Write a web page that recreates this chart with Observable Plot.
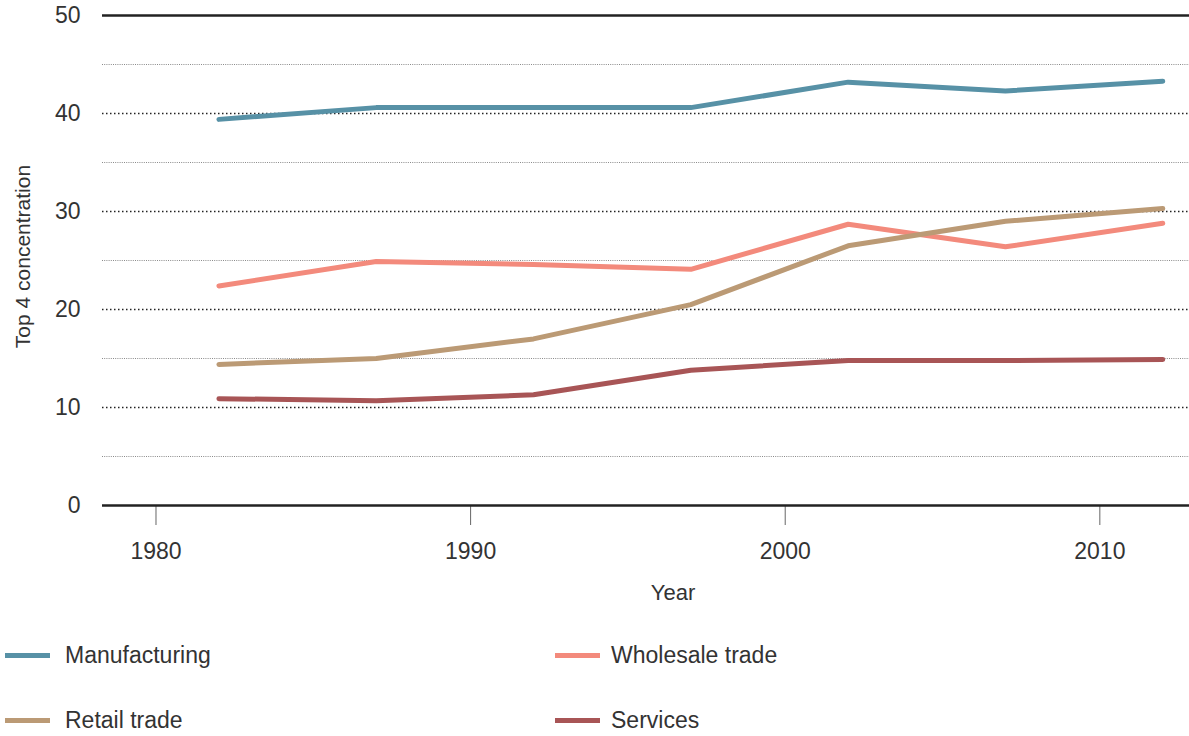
<!DOCTYPE html>
<html>
<head>
<meta charset="utf-8">
<script src="https://cdn.jsdelivr.net/npm/d3@7"></script>
<script src="https://cdn.jsdelivr.net/npm/@observablehq/plot@0.6"></script>
<style>
  html, body { margin: 0; padding: 0; background: #fff; }
  body { width: 1189px; height: 736px; position: relative; overflow: hidden;
         font-family: "Liberation Sans", Arial, sans-serif; color: #333; }
  #chart { position: absolute; left: 0; top: 0; }
  .lg { position: absolute; display: flex; align-items: center; font-size: 23px; color: #333; }
  .lg .sw { width: 45px; height: 5px; }
</style>
</head>
<body>
<div id="chart"></div>
<div id="legend"></div>
<script>
const years = [1982, 1987, 1992, 1997, 2002, 2007, 2012];
const manufacturing = [39.4, 40.6, 40.6, 40.6, 43.2, 42.3, 43.3];
const wholesale = [22.4, 24.9, 24.6, 24.1, 28.7, 26.4, 28.8];
const retail = [14.4, 15.0, 17.0, 20.5, 26.5, 29.0, 30.3];
const services = [10.9, 10.7, 11.3, 13.8, 14.8, 14.8, 14.9];

const seriesNames = ["Manufacturing", "Wholesale trade", "Retail trade", "Services"];
const seriesColors = ["#5791a6", "#f38a7c", "#bb9a75", "#a85556"];
const xTicks = [1980, 1990, 2000, 2010];
const yTicks = [0, 10, 20, 30, 40, 50];
const minorGrid = [5, 15, 25, 35, 45];
const majorGrid = [10, 20, 30, 40];
const boundary = [0, 50];

const seriesValues = [manufacturing, wholesale, retail, services];
const rows = [];
seriesNames.forEach((name, i) => {
  years.forEach((yr, j) => rows.push({series: name, year: yr, value: seriesValues[i][j]}));
});

const chart = Plot.plot({
  width: 1189,
  height: 615,
  marginLeft: 102,
  marginRight: 0,
  marginTop: 15,
  marginBottom: 110,
  x: {domain: [1978.3, 2012.85]},
  y: {domain: [0, 50]},
  color: {domain: seriesNames, range: seriesColors},
  style: {fontFamily: "'Liberation Sans', Arial, sans-serif", fontSize: "22px", color: "#333", background: "#fff"},
  marks: [
    Plot.ruleY(minorGrid, {stroke: "#8a8a8a", strokeDasharray: "1,1.2", strokeWidth: 1}),
    Plot.ruleY(majorGrid, {stroke: "#222", strokeDasharray: "1.5,2.5", strokeWidth: 1.5}),
    Plot.axisY({ticks: yTicks, tickSize: 0, tickPadding: 22, label: null, fill: "#333", fontSize: 23}),
    Plot.axisX({ticks: xTicks, tickSize: 20, tickPadding: 17, label: null, tickFormat: d => String(d), stroke: "#666", fill: "#333", fontSize: 23}),
    Plot.ruleY(boundary, {stroke: "#222", strokeWidth: 2.5}),
    Plot.line(rows, {x: "year", y: "value", z: "series", stroke: "series", strokeWidth: 5}),
    Plot.text(["Top 4 concentration"], {frameAnchor: "left", textAnchor: "middle", rotate: -90, dx: -79, dy: -4, fill: "#333", fontSize: 21}),
    Plot.text(["Year"], {frameAnchor: "bottom", dx: 27, dy: 94, fill: "#333", fontSize: 22})
  ]
});
document.getElementById("chart").appendChild(chart);

const legendPos = [[5, 655, 15], [555, 655, 11], [5, 720, 15], [555, 720, 11]];
const legend = document.getElementById("legend");
seriesNames.forEach((name, i) => {
  const d = document.createElement("div");
  d.className = "lg";
  d.style.left = legendPos[i][0] + "px";
  d.style.top = (legendPos[i][1] - 15) + "px";
  d.style.height = "30px";
  const sw = document.createElement("div");
  sw.className = "sw";
  sw.style.background = seriesColors[i];
  sw.style.marginRight = legendPos[i][2] + "px";
  const t = document.createElement("span");
  t.textContent = name;
  d.appendChild(sw);
  d.appendChild(t);
  legend.appendChild(d);
});
</script>
</body>
</html>
